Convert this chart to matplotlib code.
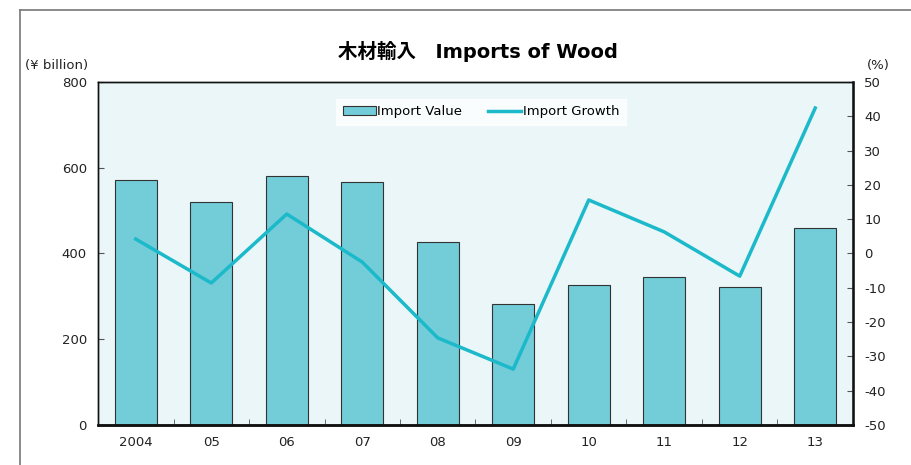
import matplotlib.pyplot as plt
import numpy as np
from matplotlib.lines import Line2D

plt.rcParams['font.family'] = ['DejaVu Sans', 'Noto Sans CJK JP']
plt.rcParams['axes.unicode_minus'] = False

years = ["2004", "05", "06", "07", "08", "09", "10", "11", "12", "13"]
import_value = [571, 520, 580, 566, 427, 282, 326, 345, 322, 459]
import_growth = [4.2, -8.6, 11.5, -2.5, -24.6, -33.7, 15.6, 6.3, -6.6, 42.4]

bar_color = "#72cdd8"
line_color = "#1bb9c9"
bg_color = "#eaf6f8"

fig = plt.figure(figsize=(9.11, 4.65), dpi=100)
ax = fig.add_axes([0.1076, 0.086, 0.8287, 0.7377])
ax.set_facecolor(bg_color)

x = np.arange(len(years))
bars = ax.bar(x, import_value, width=0.56, color=bar_color, edgecolor="#333333",
              linewidth=0.8, label="Import Value", zorder=2)
ax.set_xlim(-0.5, len(years) - 0.5)
ax.set_ylim(0, 800)
ax.set_yticks([0, 200, 400, 600, 800])
ax.set_xticks(x)
ax.set_xticklabels(years)
ax.set_xticks(np.arange(-0.5, len(years), 1), minor=True)
ax.tick_params(axis="x", which="major", length=0, pad=8, labelsize=9.5, colors="#222222")
ax.tick_params(axis="x", which="minor", direction="in", length=4, color="#555555")
ax.tick_params(axis="y", direction="in", length=4, labelsize=9.5, pad=8, color="#555555",
               labelcolor="#222222")

ax2 = ax.twinx()
line, = ax2.plot(x, import_growth, color=line_color, linewidth=2.5, label="Import Growth",
                 zorder=3)
ax2.set_ylim(-50, 50)
ax2.set_yticks(np.arange(-50, 51, 10))
ax2.tick_params(axis="y", direction="in", length=4, labelsize=9.5, pad=8, color="#555555",
                labelcolor="#222222")

for a in (ax, ax2):
    for s in a.spines.values():
        s.set_color("#111111")
        s.set_linewidth(1.0)
ax.spines["bottom"].set_linewidth(1.8)
ax2.spines["bottom"].set_linewidth(1.8)
ax2.spines["right"].set_linewidth(1.8)

leg = ax.legend([bars, line], ["Import Value", "Import Growth"], loc="upper center",
                bbox_to_anchor=(0.507, 0.97), ncol=2, frameon=True, fancybox=False,
                fontsize=9.5, handlelength=2.5, handletextpad=0.1, columnspacing=2.0,
                borderpad=0.5)
leg.get_frame().set_facecolor("white")
leg.get_frame().set_edgecolor("white")
leg.set_zorder(5)

fig.text(0.525, 0.89, "木材輸入　Imports of Wood", ha="center", va="center",
         fontsize=14, fontweight="bold", family=["DejaVu Sans", "Noto Sans CJK JP"])
fig.text(0.027, 0.86, "(¥ billion)", ha="left", va="center", fontsize=9.5, color="#222222")
fig.text(0.952, 0.86, "(%)", ha="left", va="center", fontsize=9.5, color="#222222")

# outer frame
fig.add_artist(Line2D([0.022, 0.022], [0.0, 0.979], transform=fig.transFigure,
                      color="#777777", linewidth=1.2))
fig.add_artist(Line2D([0.022, 1.0], [0.979, 0.979], transform=fig.transFigure,
                      color="#777777", linewidth=1.2))

fig.savefig("out.png", dpi=100)
